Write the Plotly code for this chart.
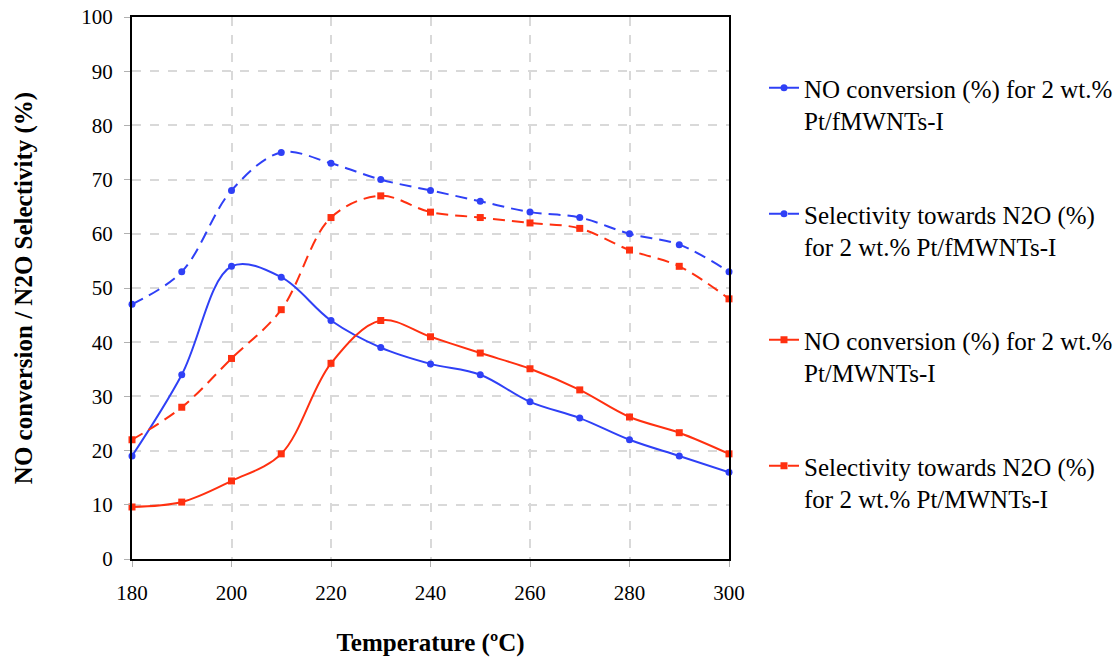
import plotly.graph_objects as go

temperature = [180, 190, 200, 210, 220, 230, 240, 250, 260, 270, 280, 290, 300]
no_conv_f = [19, 34, 54, 52, 44, 39, 36, 34, 29, 26, 22, 19, 16]
sel_f = [47, 53, 68, 75, 73, 70, 68, 66, 64, 63, 60, 58, 53]
no_conv_m = [9.6, 10.5, 14.4, 19.4, 36.1, 44, 41, 38, 35.1, 31.2, 26.2, 23.3, 19.4]
sel_m = [22, 28, 37, 46, 63, 67, 64, 63, 62, 61, 57, 54, 48]

names = [
    "NO conversion (%) for 2 wt.%<br>Pt/fMWNTs-I",
    "Selectivity towards N2O (%)<br>for 2 wt.% Pt/fMWNTs-I",
    "NO conversion (%) for 2 wt.%<br>Pt/MWNTs-I",
    "Selectivity towards N2O (%)<br>for 2 wt.% Pt/MWNTs-I",
]

BLUE = "#2f40f6"
RED = "#ff3010"
FONT = "Liberation Serif"

series = [
    (no_conv_f, BLUE, "solid", "circle", 7),
    (sel_f, BLUE, "12px,7px", "circle", 7),
    (no_conv_m, RED, "solid", "square", 7),
    (sel_m, RED, "12px,7px", "square", 7),
]

fig = go.Figure()
legend_ids = ["legend", "legend2", "legend3", "legend4"]
for i, (vals, col, dash, sym, ms) in enumerate(series):
    fig.add_trace(go.Scatter(
        x=temperature, y=vals, name=names[i], mode="lines+markers",
        line=dict(color=col, width=2, dash=dash, shape="spline", smoothing=1.0),
        marker=dict(color=col, symbol=sym, size=ms),
        cliponaxis=False, legend=legend_ids[i],
    ))

# plot area in pixels: x 132..729, y 17..559
L, R, T, B = 132, 729, 17, 559
W, H = 1120, 657
pw, ph = R - L, B - T
legend_tops = [65, 191, 317, 443]
leg_x_px = 764
layout_legends = {}
for i, lid in enumerate(legend_ids):
    layout_legends[lid] = dict(
        x=(leg_x_px - L) / pw, y=(B - legend_tops[i]) / ph,
        xanchor="left", yanchor="top", valign="top",
        font=dict(family=FONT, size=25, color="black"),
        bgcolor="rgba(0,0,0,0)", borderwidth=0,
    )

fig.update_layout(
    width=W, height=H,
    margin=dict(l=L, r=W - R, t=T, b=H - B, autoexpand=False),
    plot_bgcolor="white", paper_bgcolor="white",
    font=dict(family=FONT, color="black"),
    showlegend=True,
    **layout_legends,
)

fig.update_xaxes(
    range=[180, 300], tickvals=temperature[::2],
    showline=True, linecolor="black", linewidth=2, mirror=True,
    showgrid=True, gridcolor="#d9d9d9", gridwidth=1.5, griddash="dash",
    ticks="outside", ticklen=6, tickcolor="#b0b0b0", tickwidth=1,
    tickfont=dict(family=FONT, size=21, color="black"),
    ticklabelstandoff=8,
    zeroline=False, automargin=False,
    title=dict(text="<b>Temperature (ºC)</b>", font=dict(family=FONT, size=25, color="black"), standoff=30),
)
fig.update_yaxes(
    range=[0, 100], tickvals=list(range(0, 101, 10)),
    showline=True, linecolor="black", linewidth=2, mirror=True,
    showgrid=True, gridcolor="#d9d9d9", gridwidth=1.5, griddash="dash",
    ticks="outside", ticklen=6, tickcolor="#b0b0b0", tickwidth=1,
    tickfont=dict(family=FONT, size=21, color="black"),
    ticklabelstandoff=7,
    zeroline=False, automargin=False,
    title=dict(text="<b>NO conversion / N2O Selectivity (%)</b>", font=dict(family=FONT, size=25, color="black"), standoff=42),
)

fig.write_html("out.html")
